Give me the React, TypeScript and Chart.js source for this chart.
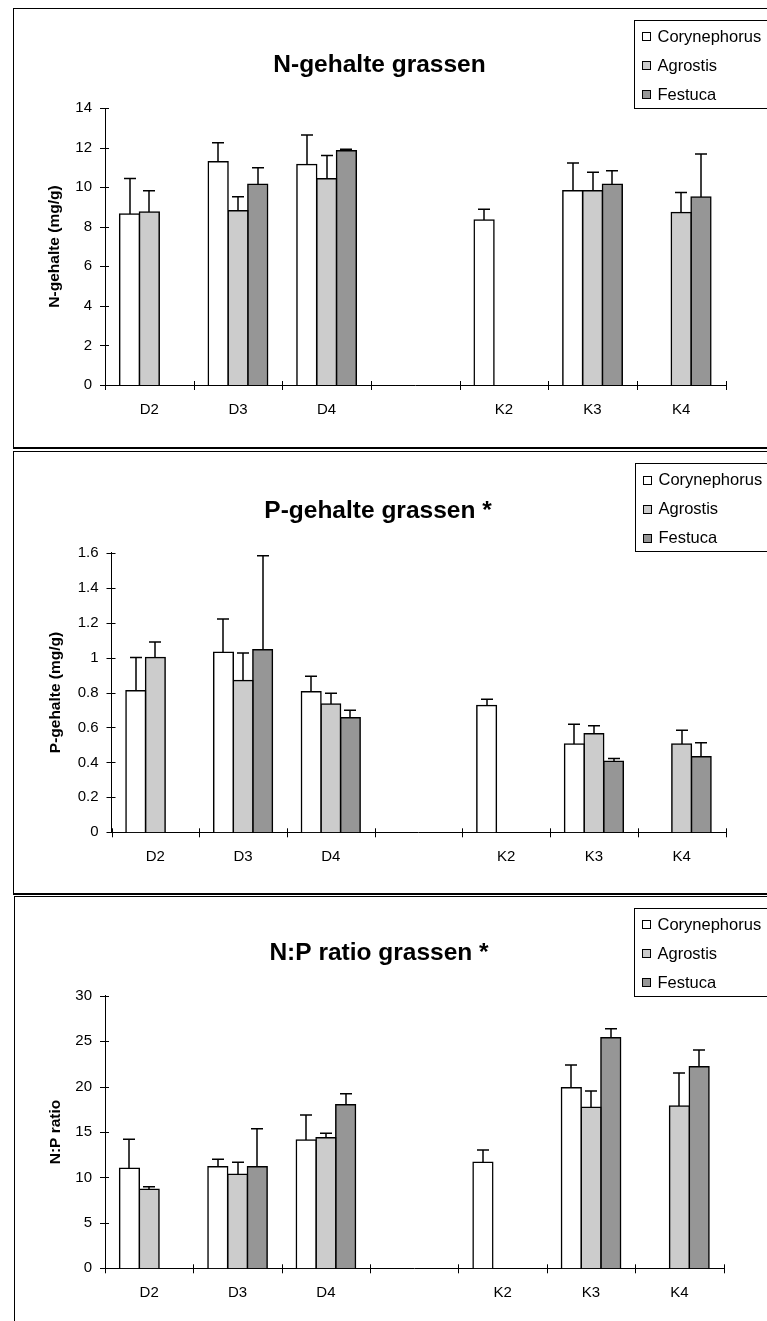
import React, { useEffect, useRef } from "react";
import { Chart, registerables } from "chart.js";

Chart.register(...registerables);

const FONT = "'Liberation Sans', Arial, Helvetica, sans-serif";

// ---------- data ----------
const categories = ["D2", "D3", "D4", "", "K2", "K3", "K4"];
const seriesNames = ["Corynephorus", "Agrostis", "Festuca"];
const seriesColors = ["#ffffff", "#cccccc", "#969696"];

// N-gehalte (mg/g)
const nCorynephorus = [8.64, 11.28, 11.15, null, 8.34, 9.82, null];
const nCorynephorusErr = [1.8, 0.96, 1.48, null, 0.54, 1.4, null];
const nAgrostis = [8.74, 8.81, 10.43, null, null, 9.82, 8.72];
const nAgrostisErr = [1.08, 0.71, 1.17, null, null, 0.93, 1.01];
const nFestuca = [null, 10.14, 11.84, null, null, 10.14, 9.5];
const nFestucaErr = [null, 0.84, 0.08, null, null, 0.69, 2.17];
const nTicks = [0, 2, 4, 6, 8, 10, 12, 14];

// P-gehalte (mg/g)
const pCorynephorus = [0.81, 1.03, 0.805, null, 0.725, 0.505, null];
const pCorynephorusErr = [0.19, 0.19, 0.088, null, 0.036, 0.113, null];
const pAgrostis = [1.0, 0.868, 0.734, null, null, 0.564, 0.505];
const pAgrostisErr = [0.089, 0.158, 0.061, null, null, 0.046, 0.079];
const pFestuca = [null, 1.045, 0.656, null, null, 0.406, 0.433];
const pFestucaErr = [null, 0.538, 0.042, null, null, 0.017, 0.08];
const pTicks = [0, 0.2, 0.4, 0.6, 0.8, 1, 1.2, 1.4, 1.6];

// N:P ratio
const npCorynephorus = [11.0, 11.18, 14.12, null, 11.66, 19.88, null];
const npCorynephorusErr = [3.2, 0.82, 2.75, null, 1.36, 2.49, null];
const npAgrostis = [8.69, 10.34, 14.37, null, null, 17.72, 17.86];
const npAgrostisErr = [0.29, 1.32, 0.49, null, null, 1.79, 3.63];
const npFestuca = [null, 11.18, 18.0, null, null, 25.38, 22.19];
const npFestucaErr = [null, 4.18, 1.22, null, null, 0.99, 1.83];
const npTicks = [0, 5, 10, 15, 20, 25, 30];

// ---------- layout specs ----------
type Spec = {
  title: string;
  yTitle: string;
  values: (number | null)[][];
  errors: (number | null)[][];
  ticks: number[];
  frame: { left: number; top: number; height: number; canvasW: number; bottomBorder: boolean };
  area: { left: number; right: number; top: number; bottom: number };
  titlePos: { x: number; y: number };
  yTitleX: number;
  legendPos: { x: number; y: number };
};

const specs: Spec[] = [
  {
    title: "N-gehalte grassen",
    yTitle: "N-gehalte (mg/g)",
    values: [nCorynephorus, nAgrostis, nFestuca],
    errors: [nCorynephorusErr, nAgrostisErr, nFestucaErr],
    ticks: nTicks,
    frame: { left: 13, top: 8, height: 438, canvasW: 753, bottomBorder: true },
    area: { left: 91, right: 711.5, top: 99, bottom: 376 },
    titlePos: { x: 365.5, y: 63 },
    yTitleX: 41,
    legendPos: { x: 620, y: 10.5 },
  },
  {
    title: "P-gehalte grassen *",
    yTitle: "P-gehalte (mg/g)",
    values: [pCorynephorus, pAgrostis, pFestuca],
    errors: [pCorynephorusErr, pAgrostisErr, pFestucaErr],
    ticks: pTicks,
    frame: { left: 13, top: 451, height: 441, canvasW: 753, bottomBorder: true },
    area: { left: 97.5, right: 711.5, top: 100.7, bottom: 380.3 },
    titlePos: { x: 364, y: 65.5 },
    yTitleX: 41.3,
    legendPos: { x: 621, y: 11 },
  },
  {
    title: "N:P ratio grassen *",
    yTitle: "N:P ratio",
    values: [npCorynephorus, npAgrostis, npFestuca],
    errors: [npCorynephorusErr, npAgrostisErr, npFestucaErr],
    ticks: npTicks,
    frame: { left: 14, top: 896, height: 430, canvasW: 752, bottomBorder: false },
    area: { left: 90, right: 708.6, top: 98.7, bottom: 371.3 },
    titlePos: { x: 364, y: 62.5 },
    yTitleX: 40.3,
    legendPos: { x: 619, y: 10.7 },
  },
];

function makeDecor(spec: Spec) {
  return {
    id: "decor",
    afterDatasetsDraw(chart: any) {
      const ctx = chart.ctx;
      const y = chart.scales.y;
      chart.data.datasets.forEach((ds: any, di: number) => {
        const meta = chart.getDatasetMeta(di);
        const errs = spec.errors[di];
        meta.data.forEach((el: any, i: number) => {
          const v = ds.data[i];
          const e = errs[i];
          if (v == null || e == null) return;
          const yt = y.getPixelForValue(v + e);
          const x = Math.round(el.x);
          ctx.save();
          ctx.strokeStyle = "#000";
          ctx.lineWidth = 1.5;
          ctx.beginPath();
          ctx.moveTo(x, el.y);
          ctx.lineTo(x, yt);
          ctx.moveTo(x - 6, yt);
          ctx.lineTo(x + 6, yt);
          ctx.stroke();
          ctx.restore();
        });
      });
    },
    afterDraw(chart: any) {
      const ctx = chart.ctx;
      const xs = chart.scales.x;
      const ys = chart.scales.y;
      const ca = chart.chartArea;
      ctx.save();
      // tick marks (cross style)
      ctx.strokeStyle = "#000";
      ctx.lineWidth = 1;
      ctx.beginPath();
      ys.ticks.forEach((t: any) => {
        const py = Math.round(ys.getPixelForValue(t.value)) + 0.5;
        ctx.moveTo(ca.left - 5, py);
        ctx.lineTo(ca.left + 4, py);
      });
      const n = categories.length;
      const half = (xs.getPixelForValue(1) - xs.getPixelForValue(0)) / 2;
      for (let i = 0; i <= n; i++) {
        const px =
          i < n ? xs.getPixelForValue(i) - half : xs.getPixelForValue(n - 1) + half;
        const ax = Math.round(px) + 0.5;
        ctx.moveTo(ax, ca.bottom - 4);
        ctx.lineTo(ax, ca.bottom + 5);
      }
      ctx.stroke();

      // title
      ctx.fillStyle = "#000";
      ctx.font = `bold 24.5px ${FONT}`;
      ctx.textAlign = "center";
      ctx.textBaseline = "alphabetic";
      ctx.fillText(spec.title, spec.titlePos.x, spec.titlePos.y);

      // legend box
      const lx = spec.legendPos.x;
      const ly = spec.legendPos.y;
      ctx.lineWidth = 1;
      ctx.strokeStyle = "#000";
      ctx.strokeRect(Math.round(lx) + 0.5, Math.round(ly) + 0.5, 300, 88);
      ctx.font = `16.5px ${FONT}`;
      ctx.textAlign = "left";
      ctx.textBaseline = "middle";
      chart.data.datasets.forEach((ds: any, i: number) => {
        const cy = ly + 16.5 + i * 29;
        const mx = Math.round(lx + 8) + 0.5;
        const my = Math.round(cy - 4) + 0.5;
        ctx.fillStyle = ds.backgroundColor;
        ctx.fillRect(mx, my, 8, 8);
        ctx.strokeRect(mx, my, 8, 8);
        ctx.fillStyle = "#000";
        ctx.fillText(ds.label, lx + 23.5, cy + 1);
      });
      ctx.restore();
    },
  };
}

function buildConfig(spec: Spec): any {
  const { area, frame } = spec;
  const canvasH = frame.height;
  return {
    type: "bar",
    data: {
      labels: categories,
      datasets: seriesNames.map((name, i) => ({
        label: name,
        data: spec.values[i],
        backgroundColor: seriesColors[i],
        borderColor: "#000",
        borderWidth: 1.5,
        inflateAmount: 0.75,
        borderSkipped: "start",
        categoryPercentage: 0.67,
        barPercentage: 1,
      })),
    },
    options: {
      responsive: false,
      animation: false,
      devicePixelRatio: 1,
      layout: {
        padding: { left: 0, top: area.top, right: frame.canvasW - area.right, bottom: 0 },
      },
      plugins: {
        legend: { display: false },
        title: { display: false },
        tooltip: { enabled: false },
      },
      scales: {
        x: {
          type: "category",
          offset: true,
          grid: { display: false, drawTicks: false, offset: true },
          border: { display: true, color: "#000", width: 1 },
          ticks: {
            color: "#000",
            font: { family: FONT, size: 15 },
            padding: 16,
            maxRotation: 0,
            autoSkip: false,
          },
          afterFit: (s: any) => {
            s.height = canvasH - area.bottom;
          },
        },
        y: {
          min: spec.ticks[0],
          max: spec.ticks[spec.ticks.length - 1],
          grid: { display: false, drawTicks: false },
          border: { display: true, color: "#000", width: 1 },
          ticks: {
            color: "#000",
            font: { family: FONT, size: 15 },
            padding: 13,
            callback: (v: any) => String(Math.round(Number(v) * 100) / 100),
          },
          afterBuildTicks: (s: any) => {
            s.ticks = spec.ticks.map((v) => ({ value: v }));
          },
          afterFit: (s: any) => {
            s.width = area.left;
          },
          title: {
            display: true,
            text: spec.yTitle,
            color: "#000",
            font: { family: FONT, size: 15.5, weight: "bold" },
            padding: { top: spec.yTitleX - 9.3, bottom: 0 },
          },
        },
      },
    },
    plugins: [makeDecor(spec)],
  };
}

function Panel({ spec }: { spec: Spec }) {
  const ref = useRef<HTMLCanvasElement>(null);
  useEffect(() => {
    const canvas = ref.current;
    if (!canvas) return;
    const chart = new Chart(canvas, buildConfig(spec));
    return () => chart.destroy();
  }, [spec]);
  const f = spec.frame;
  return (
    <div
      style={{
        position: "absolute",
        left: f.left,
        top: f.top,
        width: 800,
        height: f.height,
        borderTop: "1px solid #000",
        borderLeft: "1px solid #000",
        borderBottom: f.bottomBorder ? "2px solid #000" : "none",
        background: "#fff",
      }}
    >
      <canvas
        ref={ref}
        width={f.canvasW}
        height={f.height}
        style={{ display: "block", width: f.canvasW, height: f.height }}
      />
    </div>
  );
}

export default function App() {
  return (
    <div
      style={{
        position: "fixed",
        left: 0,
        top: 0,
        width: 767,
        height: 1321,
        overflow: "hidden",
        background: "#fff",
      }}
    >
      {specs.map((s, i) => (
        <Panel key={i} spec={s} />
      ))}
    </div>
  );
}
